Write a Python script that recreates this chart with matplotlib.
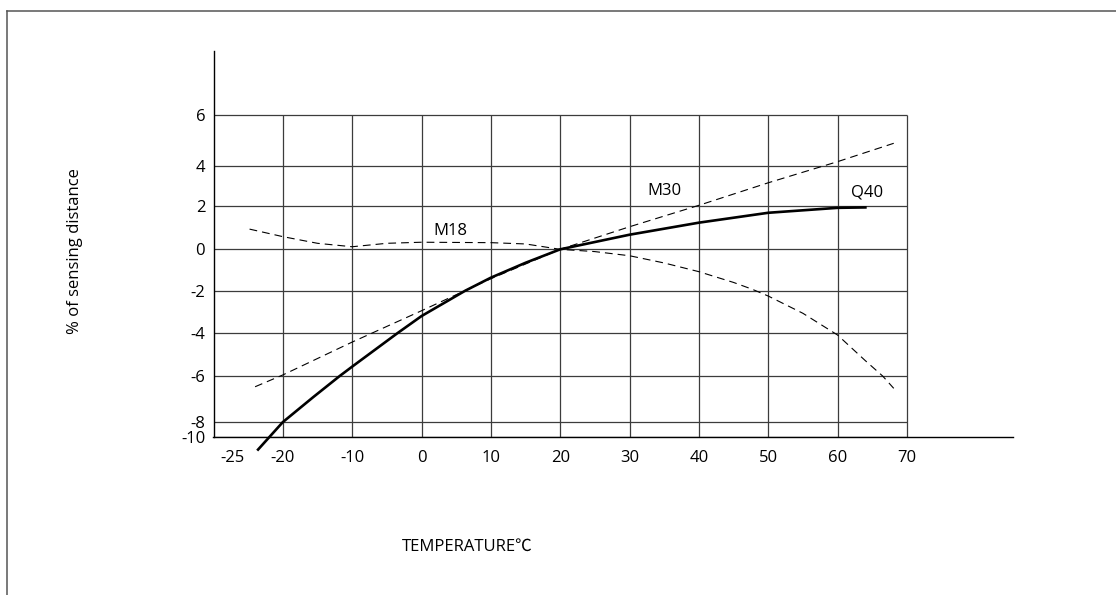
import numpy as np
import matplotlib
matplotlib.use("Agg")
import matplotlib.pyplot as plt
from matplotlib.lines import Line2D

plt.rcParams['font.family'] = ['Open Sans', 'Noto Sans CJK SC', 'DejaVu Sans']

# ---- data ----
q40_x = [-23.7, -20, -15.6, -11.8, -10, -3.5, 0, 6.3, 10, 15, 20, 30, 40, 50, 60, 64.2]
q40_y = [-11.7, -8.05, -6.92, -6.0, -5.56, -4.0, -3.19, -2.0, -1.37, -0.65, 0.0, 0.68, 1.24, 1.70, 1.93, 1.95]

m30_x = [-24, -20, -10, 0, 10, 20, 30, 40, 50, 60, 68.1]
m30_y = [-6.47, -5.95, -4.41, -2.94, -1.42, 0.0, 1.05, 2.05, 3.16, 4.16, 4.88]

m18_x = [-24.8, -20, -15, -10, -5, 0, 10, 15, 20, 25, 30, 35, 40, 45, 47.7, 50, 55, 60, 64, 66.5, 68.1]
m18_y = [0.94, 0.59, 0.28, 0.12, 0.28, 0.33, 0.31, 0.25, 0.0, -0.11, -0.31, -0.66, -1.08, -1.6, -1.93, -2.25,
         -3.06, -4.08, -5.28, -6.0, -6.54]

series_names = ["Q40", "M30", "M18"]
y_ticks = [-10, -8, -6, -4, -2, 0, 2, 4, 6]
x_grid = [-20, -10, 0, 10, 20, 30, 40, 50, 60, 70]
x_tick_labels = ["-25", "-20", "-10", "0", "10", "20", "30", "40", "50", "60", "70"]
y_label = "% of sensing distance"
x_label = "TEMPERATURE℃"

# ---- layout: the printed y axis is not evenly spaced (pixel rows of the ticks) ----
y_tick_px = [437.3, 421.7, 376.0, 333.3, 290.7, 249.3, 206.3, 165.7, 114.7]
tv = np.array(y_ticks, float)
tp = -np.array(y_tick_px, float)
lo_s = (tp[1] - tp[0]) / (tv[1] - tv[0])
hi_s = (tp[-1] - tp[-2]) / (tv[-1] - tv[-2])


def fwd(v):
    v = np.asarray(v, float)
    out = np.interp(v, tv, tp)
    out = np.where(v < tv[0], tp[0] + (v - tv[0]) * lo_s, out)
    out = np.where(v > tv[-1], tp[-1] + (v - tv[-1]) * hi_s, out)
    return out


def inv(p):
    p = np.asarray(p, float)
    out = np.interp(p, tp, tv)
    out = np.where(p < tp[0], tv[0] + (p - tp[0]) / lo_s, out)
    out = np.where(p > tp[-1], tv[-1] + (p - tp[-1]) / hi_s, out)
    return out


W, H = 1116, 595
fig = plt.figure(figsize=(W / 100, H / 100), dpi=100)
ax_left, ax_right, ax_top, ax_bot = 213.5, 1013, 51, 437.3
ax = fig.add_axes([ax_left / W, 1 - ax_bot / H, (ax_right - ax_left) / W, (ax_bot - ax_top) / H])
ax.set_yscale('function', functions=(fwd, inv))

x_min, x_max = -30, 85.3
y_min, y_max = -10, 8.5
ax.set_xlim(x_min, x_max)
ax.set_ylim(y_min, y_max)

# grid box
gcol = '#3c3c3c'
ax.hlines(y_ticks, x_min, x_grid[-1], color=gcol, lw=0.9, zorder=1)
ax.vlines(x_grid, y_ticks[0], y_ticks[-1], color=gcol, lw=0.9, zorder=1)

# curves
ax.plot(q40_x, q40_y, color='black', lw=1.9, solid_capstyle='butt', solid_joinstyle='round',
        clip_on=False, zorder=4)
ax.plot(m30_x, m30_y, color='black', lw=0.8, dashes=(7, 4.5), clip_on=False, zorder=3)
ax.plot(m18_x, m18_y, color='black', lw=0.8, dashes=(7, 4.5), clip_on=False, zorder=3)

fs = 12
ax.text(64.3, 2.69, series_names[0], fontsize=fs, ha='center', va='center')
ax.text(35.0, 2.77, series_names[1], fontsize=fs, ha='center', va='center')
ax.text(4.2, 0.85, series_names[2], fontsize=fs, ha='center', va='center')

# spines
for s in ['top', 'right']:
    ax.spines[s].set_visible(False)
ax.spines['left'].set_linewidth(1.0)
ax.spines['bottom'].set_linewidth(1.0)

ax.set_yticks(y_ticks)
ax.set_yticklabels([str(v) for v in y_ticks])
ax.yaxis.set_minor_locator(matplotlib.ticker.NullLocator())
x_tick_pos = [-27.2] + x_grid
ax.set_xticks(x_tick_pos)
ax.set_xticklabels(x_tick_labels)
ax.tick_params(axis='both', length=0, labelsize=fs)
ax.tick_params(axis='y', pad=6)
ax.tick_params(axis='x', pad=9)

fig.text(75 / W, 1 - 251 / H, y_label, rotation=90, ha='center', va='center', fontsize=fs)
fig.text(467.5 / W, 1 - 547 / H, x_label, ha='center', va='center', fontsize=fs)

# outer frame (top and left edges)
fcol = '#555555'
fig.add_artist(Line2D([7 / W, 7 / W], [0, 1 - 11 / H], color=fcol, lw=1.1, transform=fig.transFigure))
fig.add_artist(Line2D([7 / W, 1], [1 - 11 / H, 1 - 11 / H], color=fcol, lw=1.1, transform=fig.transFigure))

fig.savefig("out.png", dpi=100)
